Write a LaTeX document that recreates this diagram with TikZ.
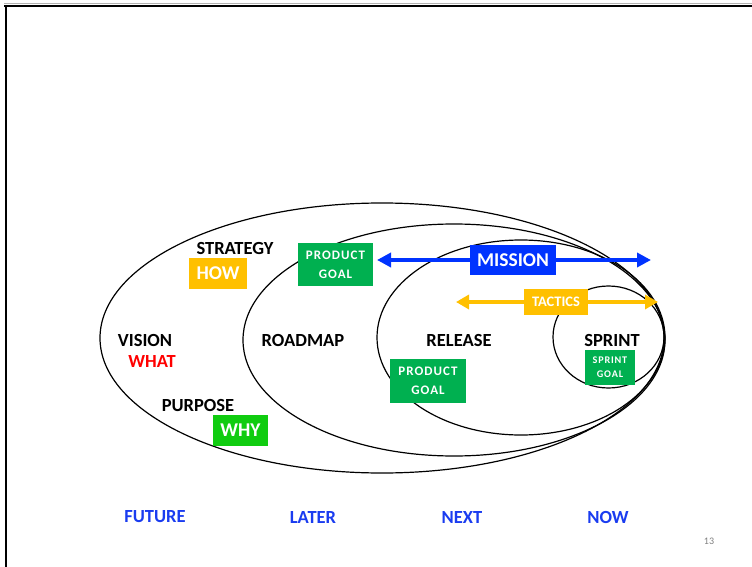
\documentclass[tikz,border=0pt]{standalone}
\usepackage{fontspec}
\setmainfont{Carlito}
\newfontfamily\spacedfont[LetterSpace=8]{Carlito}
\usetikzlibrary{arrows.meta}
\definecolor{gold}{HTML}{FFC000}
\definecolor{pgreen}{HTML}{00B050}
\definecolor{wgreen}{HTML}{10CC10}
\definecolor{mblue}{HTML}{0033FF}
\definecolor{tblue}{HTML}{1A3CF0}
\definecolor{wred}{HTML}{FF0000}
\tikzset{
  lbl/.style={font=\bfseries\fontsize{18.5}{18.5}\selectfont, text=black, inner sep=0pt},
  tlbl/.style={font=\bfseries\fontsize{18.5}{18.5}\selectfont, text=tblue, inner sep=0pt},
  box/.style={inner sep=0pt, text=white, align=center},
  bigtxt/.style={font=\bfseries\fontsize{19.5}{19.5}\selectfont},
  goaltxt/.style={font=\spacedfont\bfseries\fontsize{13}{19}\selectfont},
  ring/.style={draw=black, line width=1.2pt},
}
\begin{document}
\begin{tikzpicture}[x=1pt,y=-1pt]
\useasboundingbox (0,0) rectangle (752,567);
\fill[white] (0,0) rectangle (752,567);
% frame
\draw[gray!60, line width=1pt] (4,4) -- (752,4);
\draw[black, line width=2.5pt] (4,6) -- (752,6);
\draw[black, line width=2.5pt] (6,5) -- (6,567);
% ellipses
\draw[ring] (382,338) ellipse [x radius=282, y radius=135];
\draw[ring] (454,340) ellipse [x radius=211, y radius=116];
\draw[ring] (521,337.5) ellipse [x radius=144, y radius=97.5];
\draw[ring] (608.5,337) ellipse [x radius=55.5, y radius=51];
% arrows
\coordinate (mL) at (377,260);
\coordinate (mR) at (651,260);
\draw[mblue, line width=4pt, {Triangle[length=14pt,width=14pt]}-{Triangle[length=14pt,width=14pt]}] (mL) -- (mR);
\coordinate (tL) at (456,302);
\coordinate (tR) at (658,302);
\draw[gold, line width=4pt, {Triangle[length=13pt,width=14pt]}-{Triangle[length=13pt,width=14pt]}] (tL) -- (tR);
% labels
\node[lbl] (strategy) at (235,248) {STRATEGY};
\node[box, bigtxt, fill=gold, minimum width=58pt, minimum height=31pt] (how) at (218,273.5) {HOW};
\node[box, goaltxt, fill=pgreen, minimum width=75pt, minimum height=43pt] (pg1) at (335.5,264.5) {PRODUCT\\GOAL};
\node[box, bigtxt, fill=mblue, minimum width=86pt, minimum height=30pt] (mission) at (513,260) {MISSION};
\node[box, font=\bfseries\fontsize{14.5}{14.5}\selectfont, fill=gold, minimum width=64pt, minimum height=26pt] (tactics) at (556,302) {TACTICS};
\node[lbl] (vision) at (145,340) {VISION};
\node[lbl, text=wred] (what) at (152,361) {WHAT};
\node[lbl] (roadmap) at (303,340) {ROADMAP};
\node[lbl] (release) at (459,340) {RELEASE};
\node[lbl] (sprint) at (612,340) {SPRINT};
\node[box, font=\spacedfont\bfseries\fontsize{10.2}{14}\selectfont, fill=pgreen, minimum width=50pt, minimum height=35pt] (sg) at (610,367.5) {SPRINT\\GOAL};
\node[box, goaltxt, fill=pgreen, minimum width=76pt, minimum height=44pt] (pg2) at (428,381) {PRODUCT\\GOAL};
\node[lbl] (purpose) at (198,405) {PURPOSE};
\node[box, bigtxt, fill=wgreen, minimum width=55pt, minimum height=31pt] (why) at (240.5,430.5) {WHY};
% timeline
\node[tlbl] (future) at (155,517) {FUTURE};
\node[tlbl] (later) at (313,517) {LATER};
\node[tlbl] (next) at (462,517) {NEXT};
\node[tlbl] (now) at (608,517) {NOW};
\node[inner sep=0pt, text=gray, font=\fontsize{10}{10}\selectfont] (page) at (709,541) {13};
\end{tikzpicture}
\end{document}
